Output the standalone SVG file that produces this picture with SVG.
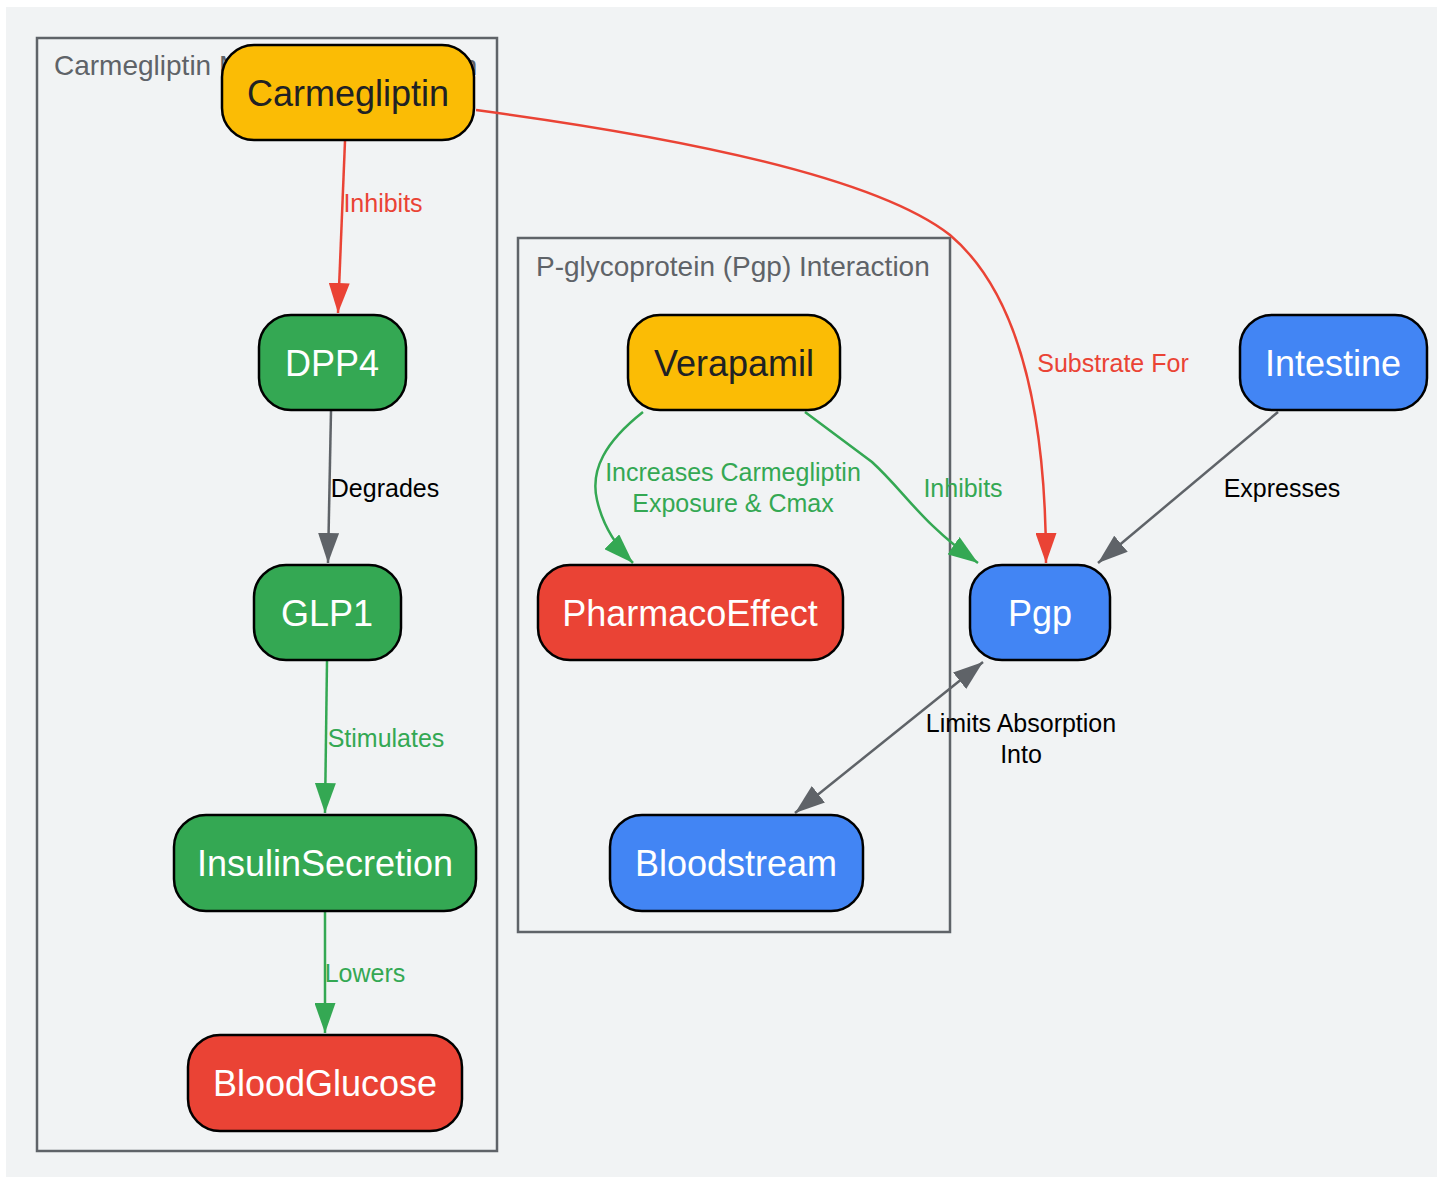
<svg xmlns="http://www.w3.org/2000/svg" width="1443" height="1177" viewBox="0 0 1443 1177">
<style>
.bg{fill:#f1f3f4}
.cluster{fill:none;stroke:#5f6368;stroke-width:2.5}
.clabel{font-family:"Liberation Sans",Arial,sans-serif;font-size:28px;fill:#5f6368}
.node rect{stroke:#000;stroke-width:2.5}
.node text{font-family:"Liberation Sans",Arial,sans-serif;font-size:36px;text-anchor:middle;dominant-baseline:central}
.yellow rect{fill:#fbbc05}.yellow text{fill:#202124}
.green rect{fill:#34a853}.green text{fill:#fff}
.red rect{fill:#ea4335}.red text{fill:#fff}
.blue rect{fill:#4285f4}.blue text{fill:#fff}
.e{fill:none;stroke-width:2.5}
.er{stroke:#ea4335}.eg{stroke:#34a853}.ek{stroke:#5f6368}
.lbl{font-family:"Liberation Sans",Arial,sans-serif;font-size:25px;text-anchor:middle;dominant-baseline:central}
.lr{fill:#ea4335}.lg{fill:#34a853}.lk{fill:#000}
</style>
<defs>
<marker id="ar" viewBox="0 0 30 21" refX="30" refY="10.5" markerWidth="30" markerHeight="21" markerUnits="userSpaceOnUse" orient="auto-start-reverse"><path d="M0,0 L30,10.5 L0,21 z" fill="#ea4335"/></marker>
<marker id="ag" viewBox="0 0 30 21" refX="30" refY="10.5" markerWidth="30" markerHeight="21" markerUnits="userSpaceOnUse" orient="auto-start-reverse"><path d="M0,0 L30,10.5 L0,21 z" fill="#34a853"/></marker>
<marker id="ak" viewBox="0 0 30 21" refX="30" refY="10.5" markerWidth="30" markerHeight="21" markerUnits="userSpaceOnUse" orient="auto-start-reverse"><path d="M0,0 L30,10.5 L0,21 z" fill="#5f6368"/></marker>
</defs>
<rect class="bg" x="6" y="7" width="1431" height="1170"/>
<g id="cluster-mechanism">
<rect class="cluster" x="37" y="38" width="460" height="1113"/>
<text class="clabel" x="54" y="75">Carmegliptin Mechanism of Action</text>
</g>
<g id="cluster-pgp">
<rect class="cluster" x="518" y="238" width="432" height="694"/>
<text class="clabel" x="536" y="276">P-glycoprotein (Pgp) Interaction</text>
</g>
<g id="connectors">
<path class="e er" d="M345,141 L338,313" marker-end="url(#ar)"/>
<path class="e ek" d="M331,411 L328,563" marker-end="url(#ak)"/>
<path class="e eg" d="M327,661 L325,813" marker-end="url(#ag)"/>
<path class="e eg" d="M325,912 L325,1033" marker-end="url(#ag)"/>
<path class="e er" d="M476,110 C700,140 880,180 950,235 C1015,290 1046,400 1046,563" marker-end="url(#ar)"/>
<path class="e eg" d="M643,412 C605,442 590,470 597,500 C602,522 615,545 633,563" marker-end="url(#ag)"/>
<path class="e eg" d="M805,412 L872,462 C905,492 920,522 978,563" marker-end="url(#ag)"/>
<path class="e ek" d="M1278,412 L1098,563" marker-end="url(#ak)"/>
<path class="e ek" d="M983,662 L795,813" marker-start="url(#ak)" marker-end="url(#ak)"/>
<text class="lbl lr" x="383" y="203">Inhibits</text>
<text class="lbl lk" x="385" y="488">Degrades</text>
<text class="lbl lg" x="386" y="738">Stimulates</text>
<text class="lbl lg" x="365" y="973">Lowers</text>
<text class="lbl lr" x="1113" y="363">Substrate For</text>
<text class="lbl lg" x="733" y="472">Increases Carmegliptin</text>
<text class="lbl lg" x="733" y="503">Exposure &amp; Cmax</text>
<text class="lbl lg" x="963" y="488">Inhibits</text>
<text class="lbl lk" x="1282" y="488">Expresses</text>
<text class="lbl lk" x="1021" y="723">Limits Absorption</text>
<text class="lbl lk" x="1021" y="754">Into</text>
</g>
<g id="Carmegliptin" class="node yellow"><rect x="222" y="45" width="252" height="95" rx="32"/><text x="348" y="93">Carmegliptin</text></g>
<g id="DPP4" class="node green"><rect x="259" y="315" width="147" height="95" rx="32"/><text x="332" y="363">DPP4</text></g>
<g id="GLP1" class="node green"><rect x="254" y="565" width="147" height="95" rx="32"/><text x="327" y="613">GLP1</text></g>
<g id="InsulinSecretion" class="node green"><rect x="174" y="815" width="302" height="96" rx="32"/><text x="325" y="863">InsulinSecretion</text></g>
<g id="BloodGlucose" class="node red"><rect x="188" y="1035" width="274" height="96" rx="32"/><text x="325" y="1083">BloodGlucose</text></g>
<g id="Verapamil" class="node yellow"><rect x="628" y="315" width="212" height="95" rx="32"/><text x="734" y="363">Verapamil</text></g>
<g id="PharmacoEffect" class="node red"><rect x="538" y="565" width="305" height="95" rx="32"/><text x="690" y="613">PharmacoEffect</text></g>
<g id="Bloodstream" class="node blue"><rect x="610" y="815" width="253" height="96" rx="32"/><text x="736" y="863">Bloodstream</text></g>
<g id="Pgp" class="node blue"><rect x="970" y="565" width="140" height="95" rx="32"/><text x="1040" y="613">Pgp</text></g>
<g id="Intestine" class="node blue"><rect x="1240" y="315" width="187" height="95" rx="32"/><text x="1333" y="363">Intestine</text></g>
</svg>
